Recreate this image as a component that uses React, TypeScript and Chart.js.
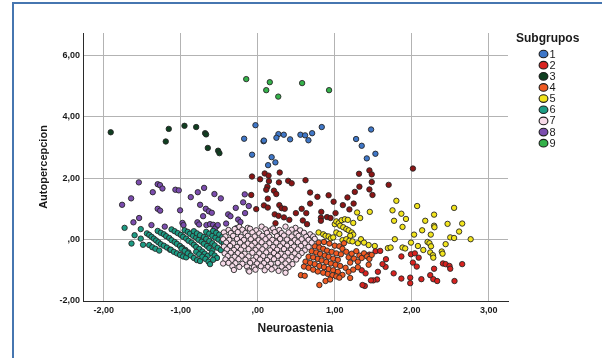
import React, { useEffect, useRef } from "react";
import { Chart, registerables } from "chart.js";

Chart.register(...registerables);

const xTickValues = [-2, -1, 0, 1, 2, 3];
const xTickLabels = ["-2,00", "-1,00", ",00", "1,00", "2,00", "3,00"];
const yTickValues = [-2, 0, 2, 4, 6];
const yTickLabels = ["-2,00", ",00", "2,00", "4,00", "6,00"];
const groupLabels = ["1", "2", "3", "4", "5", "6", "7", "8", "9"];

const group1: [number, number][] = [
  [-0.03, 3.72], [-0.177, 3.28], [0.075, 3.2], [0.08, 3.22], [-0.074, 2.76], [0.268, 3.43], [0.242, 3.31],
  [0.338, 3.41], [0.42, 3.26], [0.554, 3.41], [0.615, 3.39], [0.658, 3.23], [0.706, 3.46], [0.831, 3.66],
  [1.277, 3.27], [1.35, 3.05], [1.472, 3.58], [1.416, 2.64], [1.528, 2.79], [0.18, 2.68], [0.229, 2.51], [0.134, 2.42],
];

const group2Upper: [number, number][] = [
  [-0.075, 2.05], [0.03, 1.96], [0.09, 2.15], [0.14, 2.08], [0.145, 1.9], [0.285, 2.18], [0.125, 1.72], [0.11, 1.62],
  [0.21, 1.59], [0.24, 1.48], [0.275, 1.86], [0.395, 1.91], [0.44, 1.83], [0.62, 1.93], [0.68, 1.53], [0.775, 1.39],
  [0.92, 1.44], [-0.085, 1.45], [0.13, 1.33], [-0.02, 0.99], [0.08, 1.11], [0.13, 1.04], [0.28, 1.12], [0.31, 1.02],
  [0.35, 1.0], [0.495, 0.86], [0.57, 1.0], [0.63, 0.86], [0.68, 1.17], [0.22, 0.82], [0.27, 0.77], [0.34, 0.72],
  [0.41, 0.64], [0.23, 0.53], [0.585, 0.62], [0.64, 0.5], [0.825, 0.9], [0.82, 0.71], [0.82, 0.61], [0.9, 0.73],
  [0.945, 0.7], [0.985, 1.23], [1.01, 0.86], [1.105, 1.12], [1.165, 1.37], [1.19, 0.98], [1.245, 1.17], [1.26, 1.55],
  [1.32, 1.72], [1.315, 2.14], [1.45, 2.25], [1.48, 2.12], [1.45, 1.63], [1.48, 1.87], [1.49, 1.45], [1.7, 1.78],
  [2.015, 2.31],
];

const group2Lower: [number, number][] = [
  [1.53, -0.38], [1.59, -0.37], [1.665, -0.64], [1.66, -0.89], [1.765, -1.1], [1.865, -1.27], [1.865, -0.55],
  [1.98, -1.42], [1.99, -0.48], [2.015, -0.75], [2.065, -0.88], [2.09, -0.59], [2.125, -1.29], [2.24, -1.16],
  [2.28, -1.29], [2.33, -1.35], [2.29, -0.95], [2.405, -0.78], [2.44, -0.8], [2.49, -0.86], [2.5, -0.95],
  [2.555, -1.35], [2.655, -0.8], [1.56, -1.05], [1.55, -1.3], [1.5, -1.33], [1.47, -1.33], [1.39, -1.51],
  [1.36, -1.48], [1.4, -1.1], [1.35, -1.0], [1.62, -0.8], [1.45, -0.49], [1.98, -1.24], [2.04, -0.45],
];

const group3: [number, number][] = [
  [-1.91, 3.49], [-1.156, 3.6], [-1.195, 3.19], [-0.952, 3.7], [-0.8, 3.66], [-0.684, 3.46], [-0.671, 3.42],
  [-0.649, 2.98], [-0.515, 2.89], [-0.498, 2.81],
];

const group4: [number, number][] = [
  [0.79, -0.1], [0.86, -0.08], [0.93, -0.13], [1.0, -0.2], [1.06, -0.22], [1.1, -0.3],
  [0.74, -0.22], [0.8, -0.26], [0.85, -0.3], [0.9, -0.36], [0.96, -0.4], [1.02, -0.45], [1.08, -0.48],
  [0.7, -0.38], [0.76, -0.42], [0.81, -0.47], [0.87, -0.52], [0.92, -0.56], [0.98, -0.62], [1.04, -0.66],
  [0.66, -0.56], [0.72, -0.58], [0.78, -0.63], [0.83, -0.68], [0.89, -0.73], [0.95, -0.78], [1.01, -0.82], [1.07, -0.86],
  [0.62, -0.72], [0.68, -0.76], [0.74, -0.8], [0.8, -0.86], [0.86, -0.9], [0.92, -0.96], [0.98, -1.0], [1.04, -1.05],
  [0.6, -0.88], [0.66, -0.92], [0.72, -0.98], [0.78, -1.04], [0.85, -1.08], [0.91, -1.12], [0.97, -1.16], [1.02, -1.2],
  [0.56, -1.16], [0.61, -1.18], [0.8, -1.48], [0.88, -1.35], [0.94, -1.3],
  [1.12, -0.12], [1.15, -0.4], [1.18, -0.58], [1.22, -0.46], [1.25, -0.62], [1.2, -0.75], [1.28, -0.38],
  [1.32, -0.52], [1.3, -0.72], [1.35, -0.6], [1.38, -0.45], [1.42, -0.55], [1.45, -0.63], [1.48, -0.5],
  [1.14, -0.92], [1.18, -1.05], [1.24, -0.98], [1.3, -0.9], [1.44, -0.82], [1.2, -1.25], [1.1, -1.15], [1.06, -1.24],
];

const group5: [number, number][] = [
  [0.79, 0.23], [0.85, 0.17], [0.88, 0.12], [0.92, 0.1], [0.95, 0.04], [0.98, 0.07],
  [1.0, 0.5], [1.02, 0.59], [1.05, 0.53], [1.07, 0.45], [1.09, 0.63], [1.13, 0.66], [1.17, 0.64], [1.11, 0.4],
  [1.15, 0.34], [1.18, 0.3], [1.22, 0.23], [1.24, 0.16], [1.2, 0.12], [1.02, 0.23], [1.06, 0.18],
  [1.1, -0.02], [1.15, 0.01], [1.19, -0.04], [1.23, -0.06], [1.3, -0.12], [1.34, 0.01], [1.38, -0.1], [1.44, -0.18], [1.52, -0.21],
  [1.24, 0.54], [1.29, 0.88], [1.33, 0.7], [1.455, 0.9],
  [1.69, -0.28], [1.725, -0.26], [1.78, 0.01], [1.77, 0.61], [1.75, 0.95], [1.8, 1.26], [1.865, 0.84], [1.925, 0.67],
  [1.88, 0.41], [1.88, -0.26], [1.915, -0.29], [1.99, -0.1], [2.03, 0.16], [2.07, 1.09], [2.08, -0.21], [2.135, 0.3],
  [2.15, -0.34], [2.175, 0.61], [2.205, -0.08], [2.23, -0.12], [2.25, -0.22], [2.247, 0.16], [2.24, -0.42], [2.275, -0.51],
  [2.28, -0.59], [2.29, 0.81], [2.29, 0.45], [2.295, 0.4], [2.39, -0.39], [2.4, -0.46], [2.44, -0.15], [2.465, 0.51],
  [2.5, 0.07], [2.55, 0.05], [2.55, 1.03], [2.615, 0.26], [2.655, 0.52], [2.765, 0.01],
];

const group6: [number, number][] = [
  [-1.73, 0.38], [-1.6, 0.14], [-1.64, -0.13], [-1.52, 0.34], [-1.52, 0.03], [-1.49, -0.17],
  [-1.44, 0.2], [-1.41, 0.15], [-1.38, 0.09], [-1.35, 0.03], [-1.32, -0.03], [-1.29, -0.09], [-1.26, -0.15], [-1.22, -0.2], [-1.18, -0.26], [-1.14, -0.33],
  [-1.41, -0.18], [-1.37, -0.25], [-1.33, -0.3], [-1.28, -0.36],
  [-1.3, 0.28], [-1.26, 0.22], [-1.22, 0.17], [-1.19, 0.11], [-1.15, 0.05], [-1.12, -0.02], [-1.08, -0.08], [-1.05, -0.14],
  [-1.01, -0.21], [-0.98, -0.27], [-0.94, -0.34], [-0.9, -0.42],
  [-1.13, -0.33], [-1.09, -0.4], [-1.05, -0.45], [-1.01, -0.5], [-0.97, -0.55], [-0.93, -0.58],
  [-1.12, 0.33], [-1.08, 0.27], [-1.04, 0.21], [-1.0, 0.15], [-0.97, 0.09], [-0.93, 0.03], [-0.9, -0.04], [-0.86, -0.1],
  [-0.83, -0.17], [-0.8, -0.24], [-0.76, -0.31], [-0.72, -0.39], [-0.69, -0.46], [-0.65, -0.53],
  [-0.99, -0.3], [-0.95, -0.37], [-0.91, -0.45], [-0.87, -0.52], [-0.83, -0.6], [-0.79, -0.67], [-0.75, -0.7],
  [-0.95, 0.3], [-0.91, 0.25], [-0.88, 0.19], [-0.84, 0.12], [-0.8, 0.06], [-0.77, -0.01], [-0.73, -0.07], [-0.7, -0.14],
  [-0.66, -0.21], [-0.63, -0.28], [-0.59, -0.36],
  [-0.8, -0.4], [-0.76, -0.48], [-0.72, -0.56], [-0.68, -0.63], [-0.64, -0.72], [-0.62, -0.8],
  [-0.83, 0.27], [-0.79, 0.2], [-0.75, 0.14], [-0.7, 0.08], [-0.67, 0.02], [-0.63, -0.05], [-0.59, -0.12], [-0.56, -0.19],
  [-0.52, -0.27], [-0.48, -0.34],
  [-0.67, 0.25], [-0.63, 0.19], [-0.59, 0.12], [-0.55, 0.06], [-0.51, 0.0], [-0.47, -0.07], [-0.44, -0.14],
  [-0.58, 0.28], [-0.54, 0.22], [-0.5, 0.16], [-0.46, 0.09],
  [-0.6, -0.45], [-0.56, -0.52], [-0.53, -0.6], [-0.58, -0.66],
];

const group7: [number, number][] = [
  [-0.24, 0.41], [-0.13, 0.38], [0.05, 0.42], [0.17, 0.3], [0.36, 0.42], [0.49, 0.38],
  [-0.38, 0.31], [-0.3, 0.34], [-0.2, 0.32], [-0.1, 0.35], [-0.02, 0.3], [0.1, 0.33], [0.2, 0.36], [0.28, 0.31], [0.44, 0.32], [0.55, 0.3],
  [-0.44, 0.23], [-0.35, 0.21], [-0.26, 0.24], [-0.16, 0.21], [-0.07, 0.23], [0.02, 0.2], [0.12, 0.22], [0.22, 0.24],
  [0.31, 0.21], [0.4, 0.23], [0.5, 0.2], [0.6, 0.22], [0.68, 0.17],
  [-0.42, 0.1], [-0.32, 0.12], [-0.22, 0.09], [-0.13, 0.12], [-0.04, 0.1], [0.06, 0.12], [0.15, 0.09], [0.25, 0.11],
  [0.34, 0.13], [0.44, 0.1], [0.53, 0.12], [0.63, 0.09], [0.72, 0.1],
  [-0.45, 0.01], [-0.37, -0.01], [-0.27, 0.02], [-0.18, -0.01], [-0.09, 0.01], [0.01, -0.02], [0.1, 0.01], [0.19, -0.01],
  [0.29, 0.02], [0.38, 0.0], [0.48, -0.02], [0.57, 0.01], [0.66, -0.01], [0.74, 0.02],
  [-0.41, -0.1], [-0.32, -0.12], [-0.23, -0.1], [-0.13, -0.13], [-0.04, -0.11], [0.05, -0.09], [0.15, -0.12], [0.24, -0.1],
  [0.33, -0.12], [0.43, -0.11], [0.52, -0.09], [0.61, -0.12], [0.7, -0.1],
  [-0.44, -0.23], [-0.36, -0.21], [-0.27, -0.24], [-0.18, -0.22], [-0.08, -0.2], [0.01, -0.23], [0.1, -0.21], [0.2, -0.24],
  [0.29, -0.22], [0.38, -0.2], [0.47, -0.23], [0.56, -0.21], [0.66, -0.24],
  [-0.4, -0.32], [-0.31, -0.34], [-0.22, -0.33], [-0.12, -0.31], [-0.03, -0.34], [0.06, -0.32], [0.16, -0.35], [0.25, -0.33],
  [0.34, -0.31], [0.43, -0.34], [0.52, -0.32], [0.61, -0.35],
  [-0.43, -0.45], [-0.35, -0.43], [-0.26, -0.44], [-0.17, -0.46], [-0.07, -0.43], [0.02, -0.45], [0.11, -0.42], [0.21, -0.44],
  [0.3, -0.46], [0.39, -0.43], [0.48, -0.45], [0.57, -0.44],
  [-0.39, -0.54], [-0.3, -0.56], [-0.21, -0.53], [-0.12, -0.55], [-0.02, -0.57], [0.07, -0.54], [0.16, -0.56], [0.26, -0.53],
  [0.35, -0.55], [0.44, -0.57], [0.53, -0.54],
  [-0.42, -0.65], [-0.34, -0.67], [-0.25, -0.64], [-0.16, -0.66], [-0.06, -0.68], [0.03, -0.65], [0.12, -0.67], [0.21, -0.64],
  [0.31, -0.66], [0.4, -0.68], [0.5, -0.65],
  [-0.45, -0.78], [-0.38, -0.76], [-0.29, -0.77], [-0.2, -0.79], [-0.1, -0.76], [-0.01, -0.78], [0.08, -0.77], [0.17, -0.79],
  [0.26, -0.76], [0.36, -0.78], [0.45, -0.8],
  [-0.33, -0.87], [-0.24, -0.89], [-0.14, -0.88], [-0.05, -0.9], [0.04, -0.87], [0.13, -0.89], [0.22, -0.91], [0.31, -0.88], [0.4, -0.9],
  [-0.31, -0.99], [-0.12, -1.01], [-0.03, -0.98], [0.09, -1.0], [0.18, -0.97], [0.27, -1.02], [0.36, -0.99],
  [-0.11, -1.04], [0.36, -1.08],
];

const group8: [number, number][] = [
  [-1.762, 1.13], [-1.645, 1.34], [-1.545, 1.86], [-1.615, 0.56], [-1.541, 0.7], [-1.3, 1.8], [-1.27, 1.77],
  [-1.364, 1.54], [-1.238, 1.66], [-1.07, 1.62], [-1.026, 1.6], [-1.3, 1.0], [-1.268, 0.94], [-1.009, 0.95],
  [-1.381, 0.47], [-1.208, 0.42], [-0.978, 0.54], [-0.965, 0.47], [-0.87, 1.38], [-0.779, 1.54], [-0.697, 1.68],
  [-0.749, 1.13], [-0.675, 1.0], [-0.636, 0.92], [-0.597, 0.87], [-0.563, 1.48], [-0.48, 1.34], [-0.784, 0.56],
  [-0.762, 0.49], [-0.71, 0.76], [-0.667, 0.47], [-0.62, 0.5], [-0.58, 0.48], [-0.54, 0.42], [-0.52, 0.47],
  [-0.56, 0.35], [-0.385, 0.82], [-0.355, 0.76], [-0.286, 1.03], [-0.411, 0.52], [-0.255, 0.65], [-0.225, 0.57],
  [-0.169, 1.47], [-0.19, 1.21], [-0.117, 1.09], [-0.165, 0.86], [-0.277, 0.37],
];

const group9: [number, number][] = [
  [-0.15, 5.22], [0.156, 5.12], [0.11, 4.86], [0.266, 4.65], [0.576, 5.09], [0.926, 4.86],
];

const FONT = '"Liberation Sans", Arial, Helvetica, sans-serif';

const groupColors = ["#3f77c8", "#d8221f", "#0f3f20", "#f05a22", "#f2e41c", "#1c9c84", "#f7dbe9", "#7b4cae", "#34b24a"];
const maroonColor = "#8b1515";

const legendPlugin = {
  id: "subgruposLegend",
  afterDraw(chart: any) {
    const ctx = chart.ctx as CanvasRenderingContext2D;
    ctx.save();
    ctx.fillStyle = "#1a1a1a";
    ctx.font = `bold 12px ${FONT}`;
    ctx.textAlign = "left";
    ctx.textBaseline = "middle";
    ctx.fillText("Subgrupos", 516, 39);
    groupLabels.forEach((lab, i) => {
      const cy = 54 + i * 11.15;
      ctx.beginPath();
      ctx.ellipse(543.5, cy, 4.4, 3.8, 0, 0, Math.PI * 2);
      ctx.fillStyle = groupColors[i];
      ctx.fill();
      ctx.lineWidth = 1.1;
      ctx.strokeStyle = "#1e1e1e";
      ctx.stroke();
      ctx.fillStyle = "#1a1a1a";
      ctx.font = `11px ${FONT}`;
      ctx.fillText(lab, 549.5, cy + 0.5);
    });
    ctx.restore();
  },
};

function toPoints(arr: [number, number][]) {
  return arr.map(([x, y]) => ({ x, y }));
}

function makeDataset(label: string, arr: [number, number][], color: string) {
  return {
    label,
    data: toPoints(arr),
    backgroundColor: color,
    borderColor: "#262626",
    borderWidth: 0.9,
    pointRadius: 2.7,
    pointHoverRadius: 2.7,
  };
}

export default function App() {
  const ref = useRef<HTMLCanvasElement | null>(null);

  useEffect(() => {
    if (!ref.current) return;
    const chart = new Chart(ref.current, {
      type: "scatter",
      data: {
        datasets: [
          makeDataset("7", group7, groupColors[6]),
          makeDataset("6", group6, groupColors[5]),
          makeDataset("8", group8, groupColors[7]),
          makeDataset("4", group4, groupColors[3]),
          makeDataset("5", group5, groupColors[4]),
          makeDataset("2", group2Upper, maroonColor),
          makeDataset("2", group2Lower, groupColors[1]),
          makeDataset("1", group1, groupColors[0]),
          makeDataset("3", group3, groupColors[2]),
          makeDataset("9", group9, groupColors[8]),
        ],
      },
      options: {
        animation: false,
        responsive: false,
        devicePixelRatio: 1,
        layout: { padding: { left: 0, top: 33, right: 94, bottom: 0 } },
        plugins: { legend: { display: false }, tooltip: { enabled: false } },
        scales: {
          x: {
            type: "linear",
            min: -2.27,
            max: 3.25,
            afterFit: (s: any) => {
              s.height = 57;
            },
            afterBuildTicks: (s: any) => {
              s.ticks = xTickValues.map((v) => ({ value: v }));
            },
            ticks: {
              autoSkip: false,
              maxRotation: 0,
              padding: 4,
              color: "#1a1a1a",
              font: { family: FONT, size: 9, weight: "bold" },
              callback: (v: any) => xTickLabels[xTickValues.indexOf(Number(v))],
            },
            grid: { color: "#b3b3b3", lineWidth: 1, drawTicks: false },
            border: { display: true, color: "#2a2a2a", width: 1 },
            title: {
              display: true,
              text: "Neuroastenia",
              color: "#1a1a1a",
              font: { family: FONT, size: 12, weight: "bold" },
              padding: { top: 0, bottom: 22 },
            },
          },
          y: {
            type: "linear",
            min: -2,
            max: 6.72,
            afterFit: (s: any) => {
              s.width = 83;
            },
            afterBuildTicks: (s: any) => {
              s.ticks = yTickValues.map((v) => ({ value: v }));
            },
            ticks: {
              autoSkip: false,
              padding: 3,
              color: "#1a1a1a",
              font: { family: FONT, size: 9, weight: "bold" },
              callback: (v: any) => yTickLabels[yTickValues.indexOf(Number(v))],
            },
            grid: { color: "#b3b3b3", lineWidth: 1, drawTicks: false },
            border: { display: true, color: "#2a2a2a", width: 1 },
            title: {
              display: true,
              text: "Autopercepcion",
              color: "#1a1a1a",
              font: { family: FONT, size: 11, weight: "bold" },
              padding: { top: 37, bottom: 0 },
            },
          },
        },
      },
      plugins: [legendPlugin],
    } as any);
    return () => chart.destroy();
  }, []);

  return (
    <div style={{ position: "fixed", left: 0, top: 0, width: 602, height: 358, background: "#ffffff", overflow: "hidden" }}>
      <canvas ref={ref} width={602} height={358} style={{ position: "absolute", left: 0, top: 0, width: 602, height: 358 }} />
      <div
        style={{
          position: "absolute",
          left: 12,
          top: 2,
          width: 620,
          height: 400,
          borderLeft: "2px solid #4676b0",
          borderTop: "2px solid #4676b0",
          pointerEvents: "none",
        }}
      />
    </div>
  );
}
